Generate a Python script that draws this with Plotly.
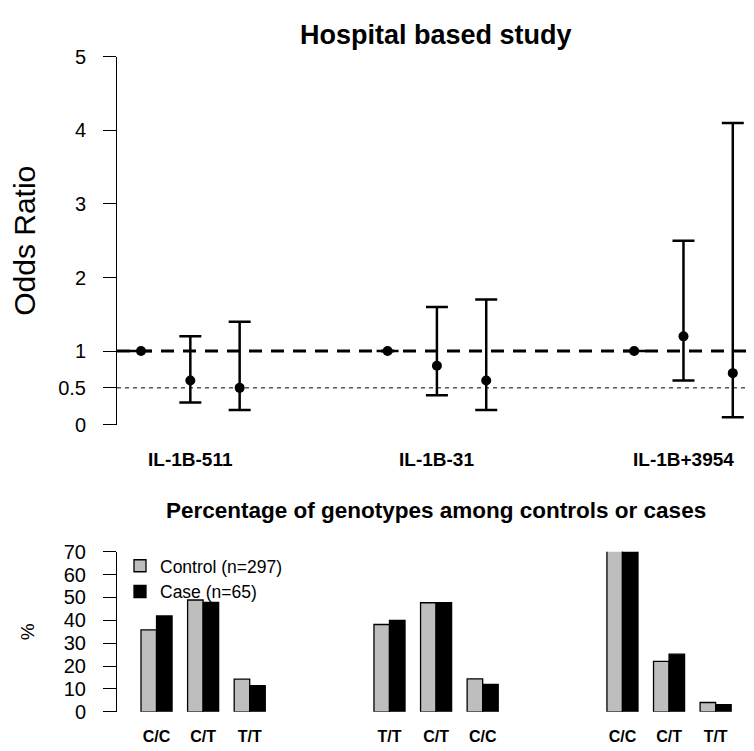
import plotly.graph_objects as go

# ---------------- data ----------------
snps = ["IL-1B-511", "IL-1B-31", "IL-1B+3954"]
or_values = [1.0, 0.6, 0.5, 1.0, 0.8, 0.6, 1.0, 1.2, 0.7]
ci_lower = [1.0, 0.3, 0.2, 1.0, 0.4, 0.2, 1.0, 0.6, 0.1]
ci_upper = [1.0, 1.2, 1.4, 1.0, 1.6, 1.7, 1.0, 2.5, 4.1]

genotypes = [["C/C", "C/T", "T/T"], ["T/T", "C/T", "C/C"], ["C/C", "C/T", "T/T"]]
control_pct = [35.8, 48.9, 14.3, 38.2, 47.7, 14.4, 72.7, 22.1, 4.1]
case_pct = [41.9, 47.8, 11.5, 40.0, 47.7, 12.0, 71.8, 25.2, 3.1]
control_label = "Control (n=297)"
case_label = "Case (n=65)"

y_ticks_top = [0, 0.5, 1, 2, 3, 4, 5]
y_ticks_bottom = [0, 10, 20, 30, 40, 50, 60, 70]

# ---------------- layout helpers ----------------
PAGE_MARGIN = 8          # default <body> margin of the html page
W, H = 754 - PAGE_MARGIN, 751 - PAGE_MARGIN
FONT = "Liberation Sans, Arial, Helvetica, sans-serif"

def px(X):
    return (X - PAGE_MARGIN) / W

def py(Y):
    return (H - (Y - PAGE_MARGIN)) / H

x_dom = [px(117), 1.0]

# point positions: groups of three, gap of 2 between groups
pt_x = []
for g in range(len(snps)):
    for k in range(3):
        pt_x.append(g * 5 + k + 1)
snp_tick_x = [g * 5 + 2 for g in range(len(snps))]

# bar positions (in bar-width units)
ctrl_x, case_x, geno_tick_x, geno_tick_text = [], [], [], []
for g in range(len(genotypes)):
    for k in range(3):
        s = g * 15 + k * 3
        ctrl_x.append(s + 0.5)
        case_x.append(s + 1.5)
        geno_tick_x.append(s + 1)
        geno_tick_text.append("<b>%s</b>" % genotypes[g][k])

fig = go.Figure()

fig.add_trace(go.Scatter(
    x=pt_x, y=or_values, mode="markers",
    marker=dict(color="black", size=10),
    error_y=dict(type="data", symmetric=False,
                 array=[u - o for u, o in zip(ci_upper, or_values)],
                 arrayminus=[o - l for o, l in zip(or_values, ci_lower)],
                 color="black", thickness=2.5, width=11),
    showlegend=False, xaxis="x", yaxis="y", cliponaxis=False,
))

fig.add_trace(go.Bar(
    x=ctrl_x, y=control_pct, width=1, name=control_label,
    marker=dict(color="#BEBEBE", line=dict(color="black", width=1.3)),
    xaxis="x2", yaxis="y2", cliponaxis=False,
))
fig.add_trace(go.Bar(
    x=case_x, y=case_pct, width=1, name=case_label,
    marker=dict(color="black", line=dict(color="black", width=1.3)),
    xaxis="x2", yaxis="y2", cliponaxis=False,
))

snp_annotations = [
    dict(text="<b>%s</b>" % s, xref="x", yref="paper", x=tx, y=py(462),
         showarrow=False, font=dict(size=19), xanchor="center", yanchor="middle")
    for s, tx in zip(snps, snp_tick_x)
]

fig.update_layout(
    width=W, height=H,
    margin=dict(l=0, r=0, t=0, b=0),
    paper_bgcolor="white", plot_bgcolor="white",
    font=dict(family=FONT, color="black"),
    barmode="overlay",
    xaxis=dict(domain=x_dom, range=[0.513, 13.43], showgrid=False, zeroline=False,
               showline=False, ticks="", showticklabels=False),
    yaxis=dict(domain=[py(426), py(47)], range=[0, 5], showgrid=False, zeroline=False,
               showline=True, linecolor="black", linewidth=1,
               ticks="outside", ticklen=13, tickwidth=1, tickcolor="black",
               tickmode="array", tickvals=y_ticks_top,
               ticktext=[("%g" % v) for v in y_ticks_top],
               tickfont=dict(size=20), ticklabelstandoff=13,
               title=dict(text="Odds Ratio", font=dict(size=30), standoff=14)),
    xaxis2=dict(domain=x_dom, range=[-1.545, 39.47], showgrid=False, zeroline=False,
                showline=False, ticks="outside", ticklen=10, tickcolor="rgba(0,0,0,0)",
                tickmode="array", tickvals=geno_tick_x,
                ticktext=geno_tick_text, tickfont=dict(size=16), anchor="y2"),
    yaxis2=dict(domain=[py(722), py(557)], range=[0, 70], showgrid=False, zeroline=False,
                showline=True, linecolor="black", linewidth=1,
                ticks="outside", ticklen=13, tickwidth=1, tickcolor="black",
                tickmode="array", tickvals=y_ticks_bottom,
                tickfont=dict(size=20), ticklabelstandoff=13, anchor="x2",
                title=dict(text="%", font=dict(size=19), standoff=24)),
    legend=dict(x=px(120), y=py(553), xanchor="left", yanchor="top",
                font=dict(size=17.5), bgcolor="rgba(0,0,0,0)", tracegroupgap=0),
    shapes=[
        dict(type="line", xref="x domain", yref="y", x0=0, x1=1, y0=1, y1=1,
             line=dict(color="black", width=3, dash="13px,9px"), layer="below"),
        dict(type="line", xref="x domain", yref="y", x0=0, x1=1, y0=0.5, y1=0.5,
             line=dict(color="black", width=1, dash="4px,4px"), layer="below"),
    ],
    annotations=[
        dict(text="<b>Hospital based study</b>", xref="paper", yref="paper",
             x=px((117 + 754) / 2), y=py(24), showarrow=False,
             font=dict(size=27), xanchor="center", yanchor="middle"),
        dict(text="<b>Percentage of genotypes among controls or cases</b>",
             xref="paper", yref="paper", x=px((117 + 754) / 2), y=py(514),
             showarrow=False, font=dict(size=22.5), xanchor="center", yanchor="middle"),
    ] + snp_annotations,
)

fig.write_html("out.html")
